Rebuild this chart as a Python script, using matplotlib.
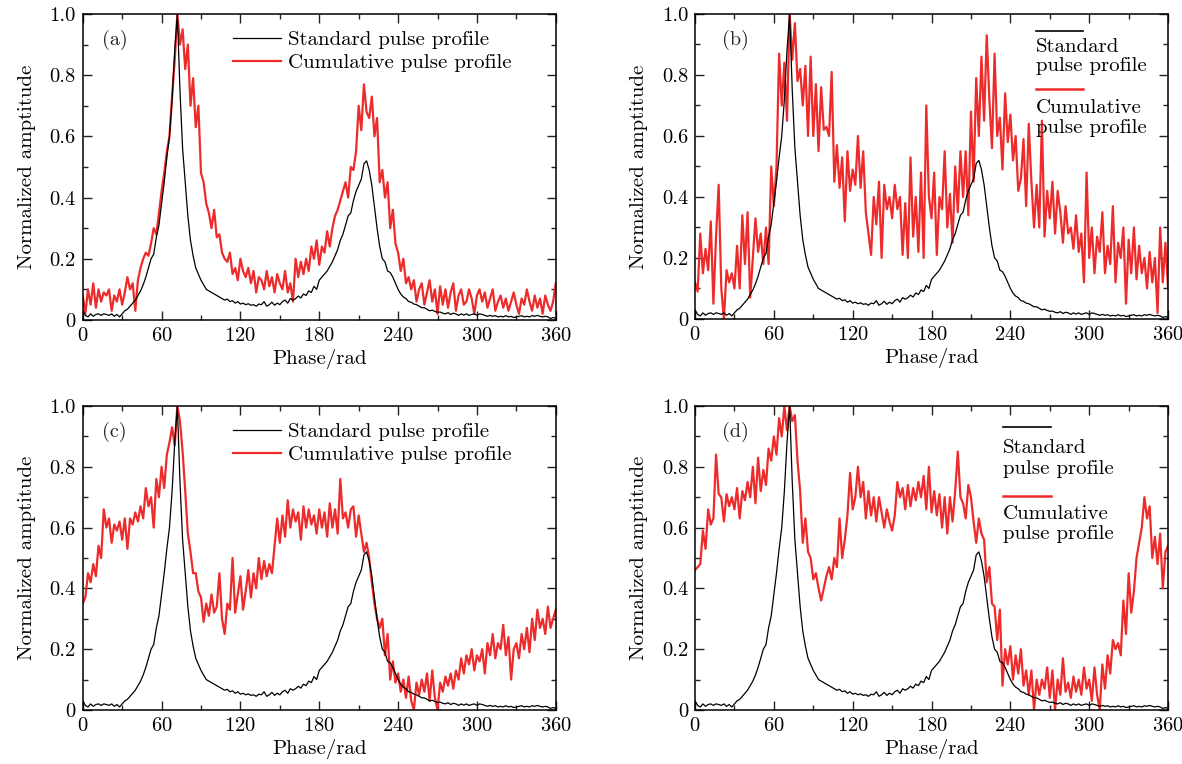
import numpy as np
import matplotlib
matplotlib.use("Agg")
import matplotlib.pyplot as plt
from matplotlib.ticker import MultipleLocator, FuncFormatter

plt.rcParams['font.family'] = ['cmr10', 'DejaVu Serif']
plt.rcParams['axes.unicode_minus'] = False
plt.rcParams['axes.formatter.use_mathtext'] = True

# phase grid (degrees), one sample every 2 units
phase = np.arange(0, 361, 2)

# standard pulse profile (same in all panels)
standard = [
    0.03, 0.015, 0.01, 0.02, 0.012, 0.018, 0.02, 0.015, 0.02, 0.018,
    0.015, 0.02, 0.012, 0.018, 0.01, 0.02, 0.03, 0.035, 0.045, 0.055,
    0.065, 0.08, 0.095, 0.115, 0.14, 0.17, 0.2, 0.215, 0.27, 0.31,
    0.38, 0.45, 0.53, 0.6, 0.72, 0.88, 1.0, 0.75, 0.56, 0.45,
    0.34, 0.26, 0.21, 0.17, 0.15, 0.13, 0.115, 0.1, 0.095, 0.09,
    0.085, 0.08, 0.075, 0.07, 0.065, 0.068, 0.06, 0.063, 0.055, 0.06,
    0.052, 0.055, 0.05, 0.053, 0.048, 0.05, 0.045, 0.052, 0.05, 0.06,
    0.045, 0.05, 0.058, 0.048, 0.055, 0.05, 0.06, 0.065, 0.055, 0.07,
    0.065, 0.07, 0.078, 0.072, 0.085, 0.08, 0.095, 0.09, 0.11, 0.1,
    0.13, 0.14, 0.15, 0.16, 0.175, 0.19, 0.21, 0.23, 0.26, 0.28,
    0.31, 0.34, 0.35, 0.39, 0.42, 0.44, 0.46, 0.51, 0.52, 0.49,
    0.44, 0.37, 0.3, 0.24, 0.2, 0.19, 0.16, 0.155, 0.14, 0.12,
    0.1, 0.085, 0.075, 0.07, 0.06, 0.058, 0.052, 0.05, 0.045, 0.04,
    0.04, 0.035, 0.03, 0.032, 0.028, 0.025, 0.026, 0.022, 0.02, 0.024,
    0.018, 0.022, 0.02, 0.015, 0.02, 0.016, 0.02, 0.015, 0.018, 0.02,
    0.015, 0.02, 0.018, 0.015, 0.012, 0.015, 0.012, 0.014, 0.01, 0.012,
    0.01, 0.014, 0.01, 0.012, 0.008, 0.01, 0.012, 0.014, 0.01, 0.012,
    0.01, 0.014, 0.012, 0.015, 0.012, 0.01, 0.012, 0.01, 0.005, 0.008,
    0.005,
]

# cumulative pulse profiles, panels (a)-(d)
cum_a = [
    0.08, 0.02, 0.1, 0.05, 0.12, 0.04, 0.1, 0.06, 0.09, 0.08,
    0.1, 0.03, 0.08, 0.06, 0.1, 0.05, 0.09, 0.14, 0.1, 0.12,
    0.03, 0.13, 0.17, 0.2, 0.22, 0.21, 0.25, 0.3, 0.28, 0.35,
    0.42, 0.48, 0.55, 0.6, 0.73, 0.85, 1.0, 0.9, 0.95, 0.82,
    0.9, 0.7, 0.79, 0.63, 0.7, 0.48, 0.45, 0.38, 0.35, 0.3,
    0.36, 0.27, 0.28, 0.22, 0.2, 0.19, 0.22, 0.15, 0.17, 0.13,
    0.2, 0.16, 0.14, 0.17, 0.12, 0.16, 0.09, 0.14, 0.13, 0.1,
    0.16, 0.11, 0.14, 0.09, 0.15, 0.12, 0.1, 0.16, 0.09, 0.12,
    0.06, 0.2, 0.14, 0.19, 0.15, 0.2, 0.16, 0.24, 0.2, 0.26,
    0.18, 0.24, 0.22, 0.29, 0.24, 0.3, 0.34, 0.36, 0.39, 0.42,
    0.45, 0.4, 0.5, 0.49, 0.55, 0.7, 0.62, 0.77, 0.68, 0.66,
    0.73, 0.6, 0.66, 0.45, 0.49, 0.4, 0.45, 0.3, 0.36, 0.25,
    0.22, 0.16, 0.2, 0.12, 0.14, 0.1, 0.13, 0.06, 0.1, 0.12,
    0.05, 0.09, 0.13, 0.06, 0.1, 0.02, 0.11, 0.05, 0.1, 0.04,
    0.09, 0.12, 0.03, 0.08, 0.1, 0.05, 0.06, 0.1, 0.07, 0.02,
    0.08, 0.1, 0.06, 0.09, 0.04, 0.07, 0.1, 0.03, 0.06, 0.08,
    0.04, 0.07, 0.03, 0.06, 0.09, 0.05, 0.02, 0.07, 0.05, 0.1,
    0.06, 0.03, 0.08, 0.04, 0.07, 0.02, 0.08, 0.05, 0.03, 0.06,
    0.12,
]

cum_b = [
    0.12, 0.09, 0.28, 0.15, 0.23, 0.16, 0.32, 0.05, 0.27, 0.44,
    0.1, 0.0, 0.16, 0.12, 0.15, 0.1, 0.24, 0.1, 0.34, 0.18,
    0.35, 0.07, 0.2, 0.33, 0.22, 0.28, 0.18, 0.3, 0.18, 0.5,
    0.37, 0.5, 0.87, 0.7, 0.84, 0.65, 1.0, 0.85, 0.97, 0.78,
    0.82, 0.7, 0.83, 0.6, 0.86, 0.6, 0.77, 0.55, 0.76, 0.62,
    0.63, 0.6, 0.81, 0.45, 0.57, 0.43, 0.53, 0.32, 0.55, 0.42,
    0.49, 0.44, 0.6, 0.43, 0.55, 0.35, 0.28, 0.21, 0.4, 0.31,
    0.45, 0.2, 0.44, 0.36, 0.4, 0.33, 0.44, 0.36, 0.4, 0.21,
    0.38, 0.2, 0.53, 0.27, 0.4, 0.22, 0.48, 0.2, 0.7, 0.4,
    0.33, 0.48, 0.21, 0.4, 0.36, 0.55, 0.3, 0.41, 0.25, 0.5,
    0.35, 0.55, 0.4, 0.55, 0.34, 0.68, 0.45, 0.79, 0.6, 0.86,
    0.65, 0.93, 0.72, 0.56, 0.87, 0.6, 0.66, 0.49, 0.74, 0.58,
    0.67, 0.52, 0.6, 0.42, 0.46, 0.59, 0.37, 0.64, 0.45, 0.3,
    0.44, 0.3, 0.65, 0.27, 0.42, 0.33, 0.45, 0.28, 0.42, 0.35,
    0.25, 0.37, 0.28, 0.3, 0.23, 0.34, 0.22, 0.28, 0.12, 0.48,
    0.2, 0.3, 0.15, 0.27, 0.22, 0.35, 0.15, 0.24, 0.18, 0.37,
    0.12, 0.25, 0.2, 0.3, 0.05, 0.26, 0.15, 0.3, 0.13, 0.24,
    0.15, 0.2, 0.1, 0.22, 0.12, 0.2, 0.02, 0.3, 0.12, 0.25,
    0.1,
]

cum_c = [
    0.35, 0.37, 0.45, 0.42, 0.48, 0.44, 0.54, 0.5, 0.66, 0.6,
    0.63, 0.55, 0.61, 0.59, 0.62, 0.56, 0.63, 0.53, 0.63, 0.61,
    0.65, 0.62, 0.67, 0.63, 0.73, 0.67, 0.7, 0.6, 0.76, 0.7,
    0.8, 0.73, 0.84, 0.88, 0.93, 0.87, 1.0, 0.95, 0.85, 0.72,
    0.58, 0.52, 0.45, 0.45, 0.39, 0.37, 0.29, 0.35, 0.31, 0.38,
    0.32, 0.34, 0.45, 0.3, 0.25, 0.35, 0.33, 0.5, 0.32, 0.38,
    0.44, 0.33, 0.39, 0.46, 0.37, 0.45, 0.4, 0.5, 0.43, 0.49,
    0.44, 0.48, 0.45, 0.54, 0.63, 0.55, 0.64, 0.57, 0.69, 0.6,
    0.66, 0.62, 0.65, 0.56, 0.67, 0.6, 0.66, 0.61, 0.64, 0.58,
    0.66, 0.6, 0.65, 0.57, 0.68, 0.6, 0.66, 0.58, 0.76, 0.63,
    0.65, 0.6, 0.66, 0.67, 0.57, 0.64, 0.58, 0.52, 0.55, 0.5,
    0.42, 0.35, 0.3, 0.27, 0.3, 0.18, 0.25, 0.1, 0.16, 0.09,
    0.12, 0.06, 0.1, 0.04, 0.11, 0.03, 0.0, 0.09, 0.05, 0.1,
    0.06, 0.12, 0.03, 0.13, 0.04, 0.0, 0.09, 0.06, 0.11, 0.08,
    0.12, 0.07, 0.13, 0.1, 0.17, 0.12, 0.18, 0.15, 0.2, 0.13,
    0.18, 0.16, 0.2, 0.12, 0.22, 0.18, 0.25, 0.17, 0.22, 0.2,
    0.28, 0.18, 0.24, 0.1, 0.2, 0.22, 0.17, 0.25, 0.2, 0.27,
    0.19, 0.3, 0.23, 0.33, 0.27, 0.3, 0.25, 0.34, 0.27, 0.3,
    0.33,
]

cum_d = [
    0.46, 0.47, 0.48, 0.59, 0.53, 0.66, 0.61, 0.63, 0.84, 0.71,
    0.7, 0.62, 0.71, 0.67, 0.7, 0.66, 0.73, 0.63, 0.72, 0.69,
    0.75, 0.7, 0.8, 0.68, 0.83, 0.72, 0.79, 0.74, 0.86, 0.82,
    0.9, 0.84, 0.96, 0.9, 1.0, 0.92, 1.0, 0.95, 0.97, 0.82,
    0.72, 0.55, 0.63, 0.52, 0.5, 0.43, 0.45, 0.4, 0.36, 0.4,
    0.44, 0.47, 0.43, 0.5, 0.47, 0.63, 0.5, 0.56, 0.64, 0.78,
    0.66, 0.7, 0.8, 0.7, 0.75, 0.63, 0.72, 0.64, 0.7, 0.62,
    0.7, 0.65, 0.6, 0.66, 0.62, 0.59, 0.64, 0.75, 0.7, 0.73,
    0.66, 0.74, 0.67, 0.73, 0.69, 0.75, 0.7, 0.77, 0.66, 0.8,
    0.65, 0.72, 0.64, 0.71, 0.6, 0.7, 0.58, 0.7, 0.62, 0.72,
    0.85, 0.7, 0.68, 0.63, 0.74, 0.7, 0.62, 0.55, 0.63, 0.58,
    0.56, 0.42, 0.47, 0.35, 0.34, 0.23, 0.33, 0.08, 0.2, 0.15,
    0.21, 0.1, 0.18, 0.12, 0.2, 0.08, 0.13, 0.05, 0.13, 0.0,
    0.1, 0.05, 0.1, 0.07, 0.14, 0.04, 0.13, 0.0, 0.1, 0.05,
    0.17, 0.06, 0.09, 0.04, 0.11, 0.06, 0.1, 0.05, 0.14, 0.07,
    0.1, 0.03, 0.14, 0.05, 0.0, 0.15, 0.07, 0.18, 0.12, 0.23,
    0.2, 0.22, 0.18, 0.36, 0.25, 0.45, 0.32, 0.39, 0.5, 0.55,
    0.6, 0.7, 0.63, 0.67, 0.5, 0.57, 0.48, 0.58, 0.4, 0.52,
    0.54,
]

panel_tags = ['(a)', '(b)', '(c)', '(d)']
cum_profiles = [cum_a, cum_b, cum_c, cum_d]
x_ticks = [0, 60, 120, 180, 240, 300, 360]

RED = '#ee2b2b'
TICK_FS = 14.8
LABEL_FS = 15
LEG_FS = 15

fig = plt.figure(figsize=(11.82, 7.64), dpi=100)
boxes = [
    [0.0700, 0.5812, 0.4002, 0.4005],
    [0.5880, 0.5825, 0.4002, 0.3992],
    [0.0700, 0.0707, 0.4002, 0.3979],
    [0.5880, 0.0707, 0.4002, 0.3979],
]

y_fmt = FuncFormatter(lambda v, pos: '0' if abs(v) < 1e-9 else f'{v:.1f}')

for i, (box, tag, cum) in enumerate(zip(boxes, panel_tags, cum_profiles)):
    ax = fig.add_axes(box)
    ax.plot(phase, standard, color='black', lw=0.9, label='Standard pulse profile', zorder=3)
    ax.plot(phase, cum, color=RED, lw=1.6, label='Cumulative pulse profile', zorder=2)

    ax.set_xlim(0, 360)
    ax.set_ylim(0, 1.0)
    ax.set_xticks(x_ticks)
    ax.xaxis.set_minor_locator(MultipleLocator(30))
    ax.yaxis.set_major_locator(MultipleLocator(0.2))
    ax.yaxis.set_minor_locator(MultipleLocator(0.1))
    ax.yaxis.set_major_formatter(y_fmt)
    ax.tick_params(which='both', direction='in', top=True, right=True,
                   labelsize=TICK_FS, width=1.0, color='#222222')
    ax.tick_params(which='major', length=6.5, pad=5)
    ax.tick_params(which='minor', length=3.5)
    for sp in ax.spines.values():
        sp.set_linewidth(1.1)

    ax.set_xlabel('Phase/rad', fontsize=LABEL_FS, labelpad=3)
    ax.set_ylabel('Normalized amptitude', fontsize=LABEL_FS, labelpad=10)

    tag_x = 0.041 if i % 2 == 0 else 0.057
    ax.text(tag_x, 0.915, tag, transform=ax.transAxes, fontsize=14.5,
            va='center', ha='left', color='#222222')

    if i % 2 == 0:
        ax.legend(loc='upper left', bbox_to_anchor=(0.318, 0.945), frameon=False,
                  fontsize=LEG_FS, handlelength=2.3, handletextpad=0.35,
                  labelspacing=0.2, borderpad=0, borderaxespad=0)
    else:
        # two-line legend with the key drawn above each label
        if i == 1:
            lx0, lx1 = 0.721, 0.820
            ys = [0.944, 0.875, 0.813, 0.754, 0.675, 0.61]
        else:
            lx0, lx1 = 0.651, 0.753
            ys = [0.931, 0.845, 0.776, 0.704, 0.628, 0.5625]
        ax.plot([lx0, lx1], [ys[0], ys[0]], transform=ax.transAxes,
                color='black', lw=1.2, clip_on=False)
        ax.text(lx0, ys[1], 'Standard', transform=ax.transAxes,
                fontsize=LEG_FS, va='baseline', ha='left')
        ax.text(lx0, ys[2], 'pulse profile', transform=ax.transAxes,
                fontsize=LEG_FS, va='baseline', ha='left')
        ax.plot([lx0, lx1], [ys[3], ys[3]], transform=ax.transAxes,
                color=RED, lw=1.8, clip_on=False)
        ax.text(lx0, ys[4], 'Cumulative', transform=ax.transAxes,
                fontsize=LEG_FS, va='baseline', ha='left')
        ax.text(lx0, ys[5], 'pulse profile', transform=ax.transAxes,
                fontsize=LEG_FS, va='baseline', ha='left')

fig.savefig('out.png', dpi=100)
